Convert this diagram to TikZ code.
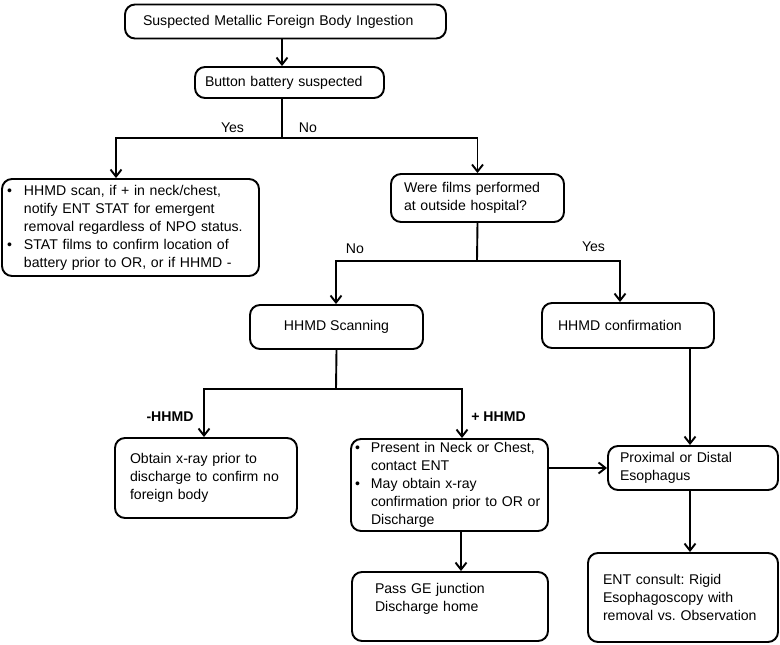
\documentclass[tikz,border=0pt]{standalone}
\usepackage{fontspec}
\setmainfont{Liberation Sans}
\usetikzlibrary{arrows.meta}
\frenchspacing
\begin{document}
\begin{tikzpicture}[x=1pt,y=-1pt,
  box/.style={draw, line width=1.9pt, rounded corners=10pt, fill=white, inner sep=0pt, align=left},
  arr/.style={line width=1.9pt, -{Straight Barb[length=7pt,width=11pt]}},
  ln/.style={line width=1.9pt},
  lbl/.style={inner sep=0pt, font=\fontsize{14.1}{18}\selectfont},
  every node/.append style={font=\fontsize{14.1}{18}\selectfont}]
\useasboundingbox[fill=white] (0,0) rectangle (780,645);
% boxes
\node[box, minimum width=321pt, minimum height=34pt, text width=285pt] (top) at (285.5,21.5) {Suspected Metallic Foreign Body Ingestion};
\node[box, minimum width=189pt, minimum height=31pt, text width=169pt] (button) at (289.5,82.5) {Button battery suspected};
\node[box, minimum width=257pt, minimum height=97pt, text width=251pt] (left) at (130.5,227.5)
 {\begin{tabular}{@{}p{19pt}@{}l@{}}
 \hspace{2pt}\textbullet & HHMD scan, if + in neck/chest,\\
  & notify ENT STAT for emergent\\
  & removal regardless of NPO status.\\
 \hspace{2pt}\textbullet & STAT films to confirm location of\\
  & battery prior to OR, or if HHMD -
 \end{tabular}};
\node[box, minimum width=173pt, minimum height=48pt, text width=147pt] (films) at (477.5,198) {Were films performed\\at outside hospital?};
\node[box, minimum width=173pt, minimum height=44pt, align=center] (scan) at (336.5,327) {HHMD Scanning};
\node[box, minimum width=172pt, minimum height=45pt, text width=140pt] (confirm) at (628,325.5) {HHMD confirmation};
\node[box, minimum width=182pt, minimum height=80pt, text width=152pt] (obtain) at (206,478) {Obtain x-ray prior to\\discharge to confirm no\\foreign body};
\node[box, minimum width=197pt, minimum height=92pt, text width=191pt] (present) at (449.5,485)
 {\begin{tabular}{@{}p{17pt}@{}l@{}}
 \hspace{1pt}\textbullet & Present in Neck or Chest,\\
  & contact ENT\\
 \hspace{1pt}\textbullet & May obtain x-ray\\
  & confirmation prior to OR or\\
  & Discharge
 \end{tabular}};
\node[box, minimum width=170pt, minimum height=44pt, text width=146pt] (prox) at (693,468) {Proximal or Distal\\Esophagus};
\node[box, minimum width=196pt, minimum height=69pt, text width=150pt] (pass) at (450,606.5) {Pass GE junction\\Discharge home\\~};
\node[box, minimum width=190pt, minimum height=89pt, text width=160pt] (ent) at (683,597.5) {ENT consult: Rigid\\Esophagoscopy with\\removal vs. Observation};
% helper coordinates
\coordinate (cx1) at (282,0);
\coordinate (j1) at (282,138);
\coordinate (j1l) at (116,138);
\coordinate (j2) at (477,261);
\coordinate (j2l) at (336,261);
\coordinate (j2r) at (620,261);
\coordinate (j3) at (336,389);
\coordinate (j3l) at (204,389);
\coordinate (j3r) at (462,389);
\coordinate (cx2) at (690,0);
\coordinate (cx3) at (461,0);
% connectors
\draw[arr] (top.south -| cx1) -- (button.north -| cx1);
\draw[ln] (button.south -| cx1) -- (j1);
\draw[arr] (j1) -- (j1l) -- (j1l |- left.north);
\draw[arr] (j1) -| (films.north);
\draw[ln] (films.south) -- (j2);
\draw[arr] (j2) -- (j2l) -- (j2l |- scan.north);
\draw[arr] (j2) -- (j2r) -- (j2r |- confirm.north);
\draw[ln] (scan.south) -- (j3);
\draw[arr] (j3) -- (j3l) -- (j3l |- obtain.north);
\draw[arr] (j3) -- (j3r) -- (j3r |- present.north);
\draw[arr] (confirm.south -| cx2) -- (prox.north -| cx2);
\draw[arr] (prox.west -| present.east) -- (prox.west);
\draw[arr] (prox.south -| cx2) -- (ent.north -| cx2);
\draw[arr] (present.south -| cx3) -- (pass.north -| cx3);
% labels
\node[lbl] (yes1) at (232.5,128) {Yes};
\node[lbl] (no1) at (308,128) {No};
\node[lbl] (no2) at (355,249) {No};
\node[lbl] (yes2) at (593.5,247) {Yes};
\node[lbl, font=\fontsize{14.1}{18}\selectfont\bfseries] (neg) at (170,417) {-HHMD};
\node[lbl, font=\fontsize{14.1}{18}\selectfont\bfseries] (pos) at (498.5,417) {+ HHMD};
\end{tikzpicture}
\end{document}
